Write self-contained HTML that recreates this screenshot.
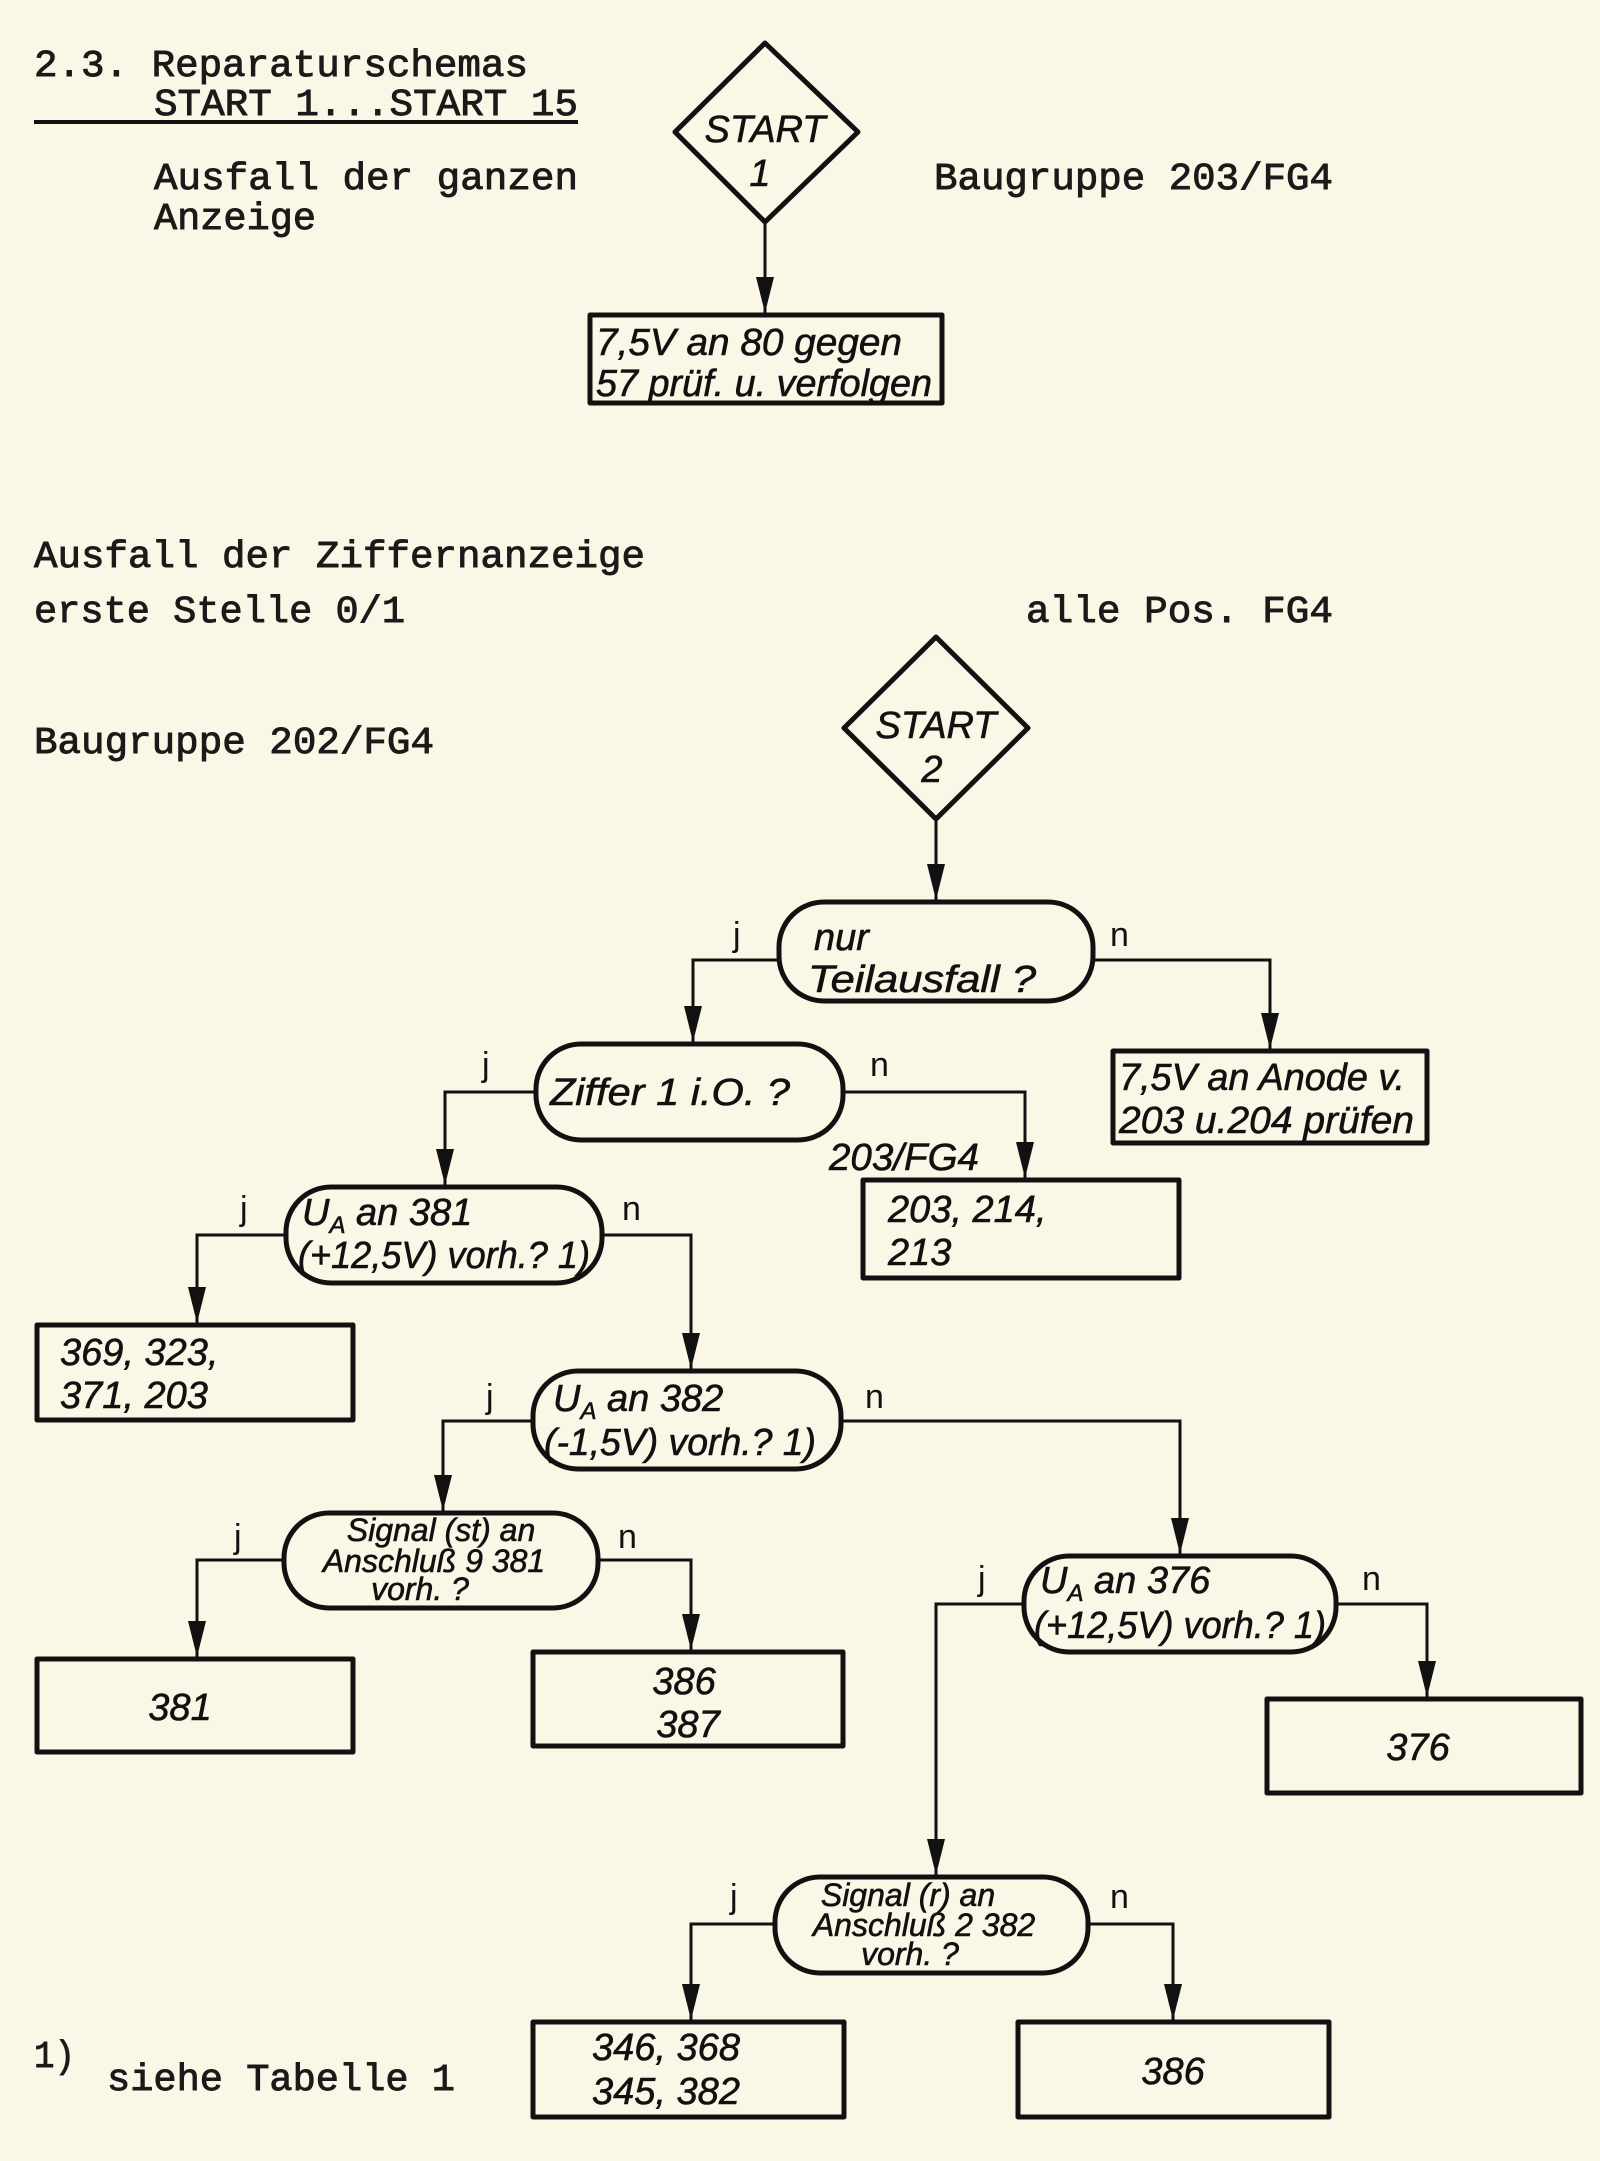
<!DOCTYPE html>
<html><head><meta charset="utf-8"><style>
html,body{margin:0;padding:0;background:#fbf7e6;}
svg{display:block;}
.tw{font-family:"Liberation Mono",monospace;font-size:38px;fill:#1a1a1a;stroke:#1a1a1a;stroke-width:0.9px;}
.fc{font-family:"Liberation Sans Narrow","Liberation Sans",sans-serif;font-style:italic;fill:#111;font-size:38px;stroke:#111;stroke-width:0.6px;}
.sm{font-size:32px;}
.lbl{font-family:"Liberation Sans",sans-serif;font-size:34px;fill:#111;}
</style></head><body>
<svg width="1600" height="2161" viewBox="0 0 1600 2161" xmlns="http://www.w3.org/2000/svg">
<rect width="1600" height="2161" fill="#fbf7e6"/>
<defs><marker id="a" markerWidth="36" markerHeight="18" refX="36" refY="9" orient="auto" markerUnits="userSpaceOnUse" viewBox="0 0 36 18"><path d="M0,0 L36,9 L0,18 Z" fill="#111"/></marker></defs>
<line x1="34" y1="122" x2="578" y2="122" stroke="#111" stroke-width="4"/>
<text class="tw" x="34" y="76" textLength="494" lengthAdjust="spacingAndGlyphs">2.3. Reparaturschemas</text>
<text class="tw" x="154" y="115" textLength="424" lengthAdjust="spacingAndGlyphs">START 1...START 15</text>
<text class="tw" x="154" y="189" textLength="424" lengthAdjust="spacingAndGlyphs">Ausfall der ganzen</text>
<text class="tw" x="154" y="229" textLength="162" lengthAdjust="spacingAndGlyphs">Anzeige</text>
<text class="tw" x="934" y="189" textLength="399" lengthAdjust="spacingAndGlyphs">Baugruppe 203/FG4</text>
<text class="tw" x="34" y="567" textLength="611" lengthAdjust="spacingAndGlyphs">Ausfall der Ziffernanzeige</text>
<text class="tw" x="34" y="622" textLength="371" lengthAdjust="spacingAndGlyphs">erste Stelle 0/1</text>
<text class="tw" x="1026" y="622" textLength="307" lengthAdjust="spacingAndGlyphs">alle Pos. FG4</text>
<text class="tw" x="34" y="753" textLength="400" lengthAdjust="spacingAndGlyphs">Baugruppe 202/FG4</text>
<text class="tw" x="34" y="2067" textLength="41" lengthAdjust="spacingAndGlyphs">1)</text>
<text class="tw" x="107" y="2090" textLength="348" lengthAdjust="spacingAndGlyphs">siehe Tabelle 1</text>

<g fill="none" stroke="#111" stroke-width="5" stroke-linejoin="round">
<polygon points="765,43 858,132 765,222 675,132"/>
<polygon points="936,637 1028,728 936,819 844,728"/>
<rect x="590" y="315" width="352" height="88"/>
<rect x="779" y="902" width="314" height="99" rx="45"/>
<rect x="1113" y="1051" width="314" height="92"/>
<rect x="536" y="1044" width="307" height="96" rx="45"/>
<rect x="863" y="1180" width="316" height="98"/>
<rect x="286" y="1187" width="316" height="96" rx="45"/>
<rect x="37" y="1325" width="316" height="95"/>
<rect x="533" y="1371" width="308" height="98" rx="45"/>
<rect x="284" y="1513" width="314" height="95" rx="45"/>
<rect x="37" y="1659" width="316" height="93"/>
<rect x="533" y="1652" width="310" height="94"/>
<rect x="1024" y="1556" width="312" height="96" rx="45"/>
<rect x="1267" y="1699" width="314" height="94"/>
<rect x="775" y="1877" width="313" height="96" rx="45"/>
<rect x="533" y="2022" width="311" height="95"/>
<rect x="1018" y="2022" width="311" height="95"/>
</g>
<g fill="none" stroke="#111" stroke-width="3" marker-end="url(#a)">
<polyline points="765,222 765,313"/>
<polyline points="936,819 936,900"/>
<polyline points="779,960 693,960 693,1042"/>
<polyline points="1093,960 1270,960 1270,1049"/>
<polyline points="536,1092 445,1092 445,1185"/>
<polyline points="843,1092 1025,1092 1025,1178"/>
<polyline points="286,1235 197,1235 197,1323"/>
<polyline points="602,1235 691,1235 691,1369"/>
<polyline points="533,1421 443,1421 443,1511"/>
<polyline points="841,1421 1180,1421 1180,1554"/>
<polyline points="284,1560 197,1560 197,1657"/>
<polyline points="598,1560 691,1560 691,1650"/>
<polyline points="1024,1604 936,1604 936,1875"/>
<polyline points="1336,1604 1427,1604 1427,1697"/>
<polyline points="775,1924 691,1924 691,2020"/>
<polyline points="1088,1924 1173,1924 1173,2020"/>
</g>

<text class="fc" x="765" y="142" text-anchor="middle" font-size="44">START</text>
<text class="fc" x="760" y="186" text-anchor="middle" font-size="44">1</text>
<text class="fc" x="936" y="738" text-anchor="middle" font-size="44">START</text>
<text class="fc" x="932" y="782" text-anchor="middle" font-size="44">2</text>
<text class="fc" x="596" y="355" textLength="306" lengthAdjust="spacingAndGlyphs">7,5V  an 80 gegen</text>
<text class="fc" x="596" y="396" textLength="336" lengthAdjust="spacingAndGlyphs">57 prüf. u. verfolgen</text>
<text class="fc" x="814" y="950">nur</text>
<text class="fc" x="808" y="992" textLength="228" lengthAdjust="spacingAndGlyphs">Teilausfall ?</text>
<text class="fc" x="1119" y="1090" textLength="286" lengthAdjust="spacingAndGlyphs">7,5V an Anode v.</text>
<text class="fc" x="1119" y="1133" textLength="295" lengthAdjust="spacingAndGlyphs">203 u.204 prüfen</text>
<text class="fc" x="550" y="1105" font-size="40" textLength="240" lengthAdjust="spacingAndGlyphs">Ziffer 1  i.O. ?</text>
<text class="fc" x="829" y="1170" font-size="34" textLength="150" lengthAdjust="spacingAndGlyphs">203/FG4</text>
<text class="fc" x="888" y="1222">203, 214,</text>
<text class="fc" x="888" y="1265">213</text>
<text class="fc" x="302" y="1225">U<tspan font-size="24" dy="8">A</tspan><tspan dy="-8"> an 381</tspan></text>
<text class="fc" x="298" y="1268" font-size="33" textLength="292" lengthAdjust="spacingAndGlyphs">(+12,5V) vorh.?  1)</text>
<text class="fc" x="60" y="1365">369, 323,</text>
<text class="fc" x="60" y="1408">371, 203</text>
<text class="fc" x="553" y="1411">U<tspan font-size="24" dy="8">A</tspan><tspan dy="-8"> an 382</tspan></text>
<text class="fc" x="544" y="1455" font-size="33" textLength="272" lengthAdjust="spacingAndGlyphs">(-1,5V) vorh.?  1)</text>
<text class="fc sm" x="441" y="1541" text-anchor="middle">Signal (st) an</text>
<text class="fc sm" x="434" y="1572" text-anchor="middle">Anschluß 9   381</text>
<text class="fc sm" x="420" y="1600" text-anchor="middle">vorh. ?</text>
<text class="fc" x="180" y="1720" text-anchor="middle">381</text>
<text class="fc" x="684" y="1694" text-anchor="middle">386</text>
<text class="fc" x="688" y="1737" text-anchor="middle">387</text>
<text class="fc" x="1040" y="1593">U<tspan font-size="24" dy="8">A</tspan><tspan dy="-8"> an 376</tspan></text>
<text class="fc" x="1034" y="1638" font-size="33" textLength="292" lengthAdjust="spacingAndGlyphs">(+12,5V) vorh.?  1)</text>
<text class="fc" x="1418" y="1760" text-anchor="middle">376</text>
<text class="fc sm" x="908" y="1906" text-anchor="middle">Signal (r) an</text>
<text class="fc sm" x="924" y="1936" text-anchor="middle">Anschluß 2   382</text>
<text class="fc sm" x="910" y="1965" text-anchor="middle">vorh. ?</text>
<text class="fc" x="666" y="2060" text-anchor="middle">346, 368</text>
<text class="fc" x="666" y="2104" text-anchor="middle">345, 382</text>
<text class="fc" x="1173" y="2084" text-anchor="middle">386</text>

<text class="lbl" x="733" y="946">j</text>
<text class="lbl" x="1110" y="946">n</text>
<text class="lbl" x="482" y="1076">j</text>
<text class="lbl" x="870" y="1076">n</text>
<text class="lbl" x="240" y="1220">j</text>
<text class="lbl" x="622" y="1220">n</text>
<text class="lbl" x="486" y="1408">j</text>
<text class="lbl" x="865" y="1408">n</text>
<text class="lbl" x="234" y="1548">j</text>
<text class="lbl" x="618" y="1548">n</text>
<text class="lbl" x="978" y="1590">j</text>
<text class="lbl" x="1362" y="1590">n</text>
<text class="lbl" x="730" y="1908">j</text>
<text class="lbl" x="1110" y="1908">n</text>
</svg>
</body></html>
